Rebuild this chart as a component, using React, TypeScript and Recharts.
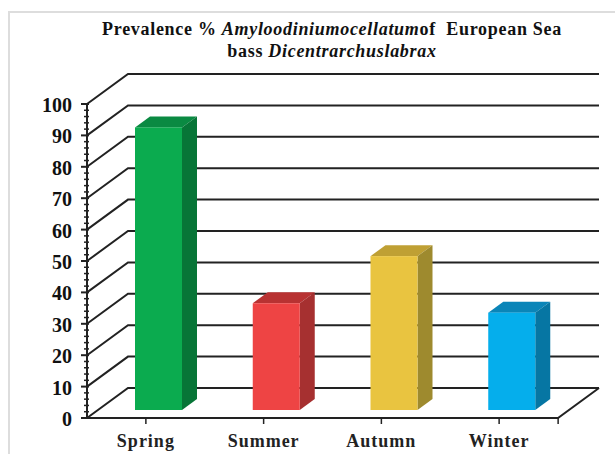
import React from 'react';
import { BarChart, Bar, XAxis, YAxis, CartesianGrid, Cell } from 'recharts';

const seasons = ['Spring', 'Summer', 'Autumn', 'Winter'];
const prevalence = [90, 34, 49, 31];
const gridValues = [0, 10, 20, 30, 40, 50, 60, 70, 80, 90, 100];
const axisTicks = [
  0, 2, 4, 6, 8, 10, 12, 14, 16, 18, 20, 22, 24, 26, 28, 30, 32, 34, 36, 38, 40, 42, 44, 46, 48, 50,
  52, 54, 56, 58, 60, 62, 64, 66, 68, 70, 72, 74, 76, 78, 80, 82, 84, 86, 88, 90, 92, 94, 96, 98, 100,
];

const frontColors = ['#0bab4f', '#ee4444', '#e9c440', '#05aeec'];
const topColors = ['#0a8a42', '#b83232', '#bfa034', '#0a85b8'];
const sideColors = ['#077537', '#a63030', '#9e8a2e', '#0676a3'];

const data = seasons.map((season, i) => ({ season, value: prevalence[i] }));

const serif = '"Liberation Serif", serif';
const lineColor = '#222';

// back wall sits up and right of the front axis plane
const WALL_DX = 41;
const WALL_DY = 30;

const WallLine = (props: any) => {
  const { x1, x2, y1 } = props;
  const isFloor = y1 > 410;
  const d = `M${x1},${y1} L${x1 + WALL_DX},${y1 - WALL_DY} L${x2 + WALL_DX},${y1 - WALL_DY}`;
  return (
    <g>
      <path d={d} fill="none" stroke={lineColor} strokeWidth={2} />
      {isFloor && (
        <path
          d={`M${x1},${y1} L${x2},${y1} L${x2 + WALL_DX},${y1 - WALL_DY}`}
          fill="none"
          stroke={lineColor}
          strokeWidth={2}
        />
      )}
    </g>
  );
};

const Bar3D = (props: any) => {
  const { x, y, width, height, index } = props;
  const left = x + 13;
  const top = y - 8;
  const right = left + width;
  const bottom = top + height;
  const dx = 15;
  const dy = 11;
  return (
    <g>
      <path
        d={`M${left},${top} L${left + dx},${top - dy} L${right + dx},${top - dy} L${right},${top} Z`}
        fill={topColors[index]}
      />
      <path
        d={`M${right},${top} L${right + dx},${top - dy} L${right + dx},${bottom - dy} L${right},${bottom} Z`}
        fill={sideColors[index]}
      />
      <rect x={left} y={top} width={width} height={height} fill={frontColors[index]} />
    </g>
  );
};

const YTick = (props: any) => {
  const { x, y, payload } = props;
  const axisX = x + 8;
  const major = payload.value % 10 === 0;
  return (
    <g>
      <line
        x1={major ? axisX - 6 : axisX - 3}
        x2={axisX + 2}
        y1={y}
        y2={y}
        stroke={lineColor}
        strokeWidth={major ? 2 : 1.5}
      />
      {major && (
        <text
          x={axisX - 15}
          y={y + 8}
          textAnchor="end"
          fontFamily={serif}
          fontWeight="bold"
          fontSize={20}
          fill="#111"
        >
          {payload.value}
        </text>
      )}
    </g>
  );
};

const XTick = (props: any) => {
  const { x, y, payload, index } = props;
  const band = 118;
  return (
    <g>
      <line x1={x} x2={x} y1={y - 8} y2={y - 2} stroke={lineColor} strokeWidth={1.5} />
      {index === seasons.length - 1 && (
        <line x1={x + band / 2} x2={x + band / 2} y1={y - 8} y2={y - 2} stroke={lineColor} strokeWidth={1.5} />
      )}
      <text
        x={x}
        y={y + 21}
        textAnchor="middle"
        fontFamily={serif}
        fontWeight="bold"
        fontSize={18}
        letterSpacing={1}
        fill="#222"
      >
        {payload.value}
      </text>
    </g>
  );
};

export default function App() {
  return (
    <div style={{ position: 'absolute', left: 0, top: 0, width: 615, height: 454, background: '#fff', overflow: 'hidden' }}>
      <div
        style={{
          position: 'absolute',
          left: 8,
          top: 11,
          right: 0,
          bottom: 0,
          borderLeft: '2px solid #ddd',
          borderTop: '2px solid #ddd',
        }}
      />
      <BarChart
        width={615}
        height={454}
        data={data}
        margin={{ top: 104, right: 57, bottom: 0, left: 0 }}
        style={{ position: 'absolute', left: 0, top: 0 }}
      >
        <CartesianGrid vertical={false} horizontal={(p: any) => <WallLine {...p} />} horizontalValues={gridValues} />
        <XAxis
          dataKey="season"
          height={36}
          axisLine={{ stroke: lineColor, strokeWidth: 2 }}
          tickLine={false}
          interval={0}
          tick={(p: any) => <XTick {...p} />}
        />
        <YAxis
          width={87}
          domain={[0, 100]}
          ticks={axisTicks}
          interval={0}
          axisLine={{ stroke: lineColor, strokeWidth: 2 }}
          tickLine={false}
          tick={(p: any) => <YTick {...p} />}
        />
        <Bar dataKey="value" barSize={47} isAnimationActive={false} shape={(p: any) => <Bar3D {...p} />}>
          {data.map((d, i) => (
            <Cell key={d.season} fill={frontColors[i]} />
          ))}
        </Bar>
      </BarChart>
      <div
        style={{
          position: 'absolute',
          left: 60,
          top: 18,
          width: 544,
          textAlign: 'center',
          fontFamily: serif,
          fontWeight: 'bold',
          fontSize: 18,
          letterSpacing: 0.7,
          lineHeight: '22px',
          color: '#111',
        }}
      >
        Prevalence % <i>Amyloodiniumocellatum</i>of&nbsp; European Sea
        <br />
        bass <i>Dicentrarchuslabrax</i>
      </div>
    </div>
  );
}
